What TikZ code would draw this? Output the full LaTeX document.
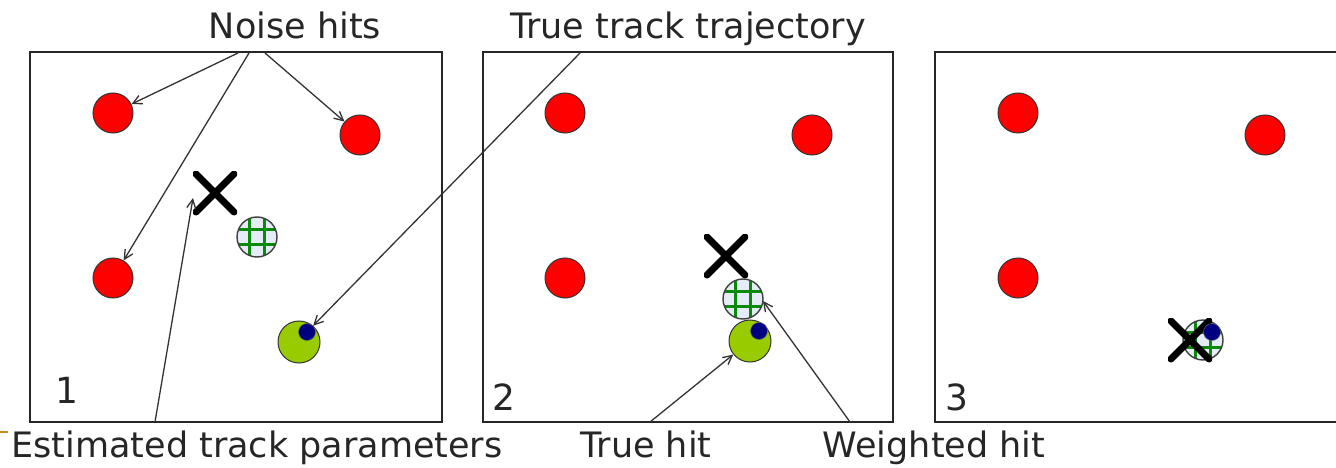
\documentclass[tikz,border=0pt]{standalone}
\usepackage{fontspec}
\setmainfont{DejaVu Sans}
\usetikzlibrary{arrows.meta}
\definecolor{noisered}{HTML}{FF0000}
\definecolor{truegreen}{HTML}{99CC00}
\definecolor{dotblue}{HTML}{000080}
\definecolor{wfill}{HTML}{E6ECF7}
\definecolor{gridgreen}{HTML}{0A8A0A}
\definecolor{orangeln}{HTML}{C88A1E}
\begin{document}
\begin{tikzpicture}[x=1pt,y=-1pt,
  panel/.style={draw=black!85,line width=2pt},
  noise/.style={circle,draw=black!80,line width=1pt,fill=noisered,minimum size=40pt,inner sep=0pt},
  truehit/.style={circle,draw=black!80,line width=1pt,fill=truegreen,minimum size=42pt,inner sep=0pt},
  bluedot/.style={circle,fill=dotblue,draw=black!60,line width=0.5pt,minimum size=17pt,inner sep=0pt},
  weighted/.style={circle,draw=black!75,line width=1.4pt,fill=wfill,minimum size=40pt,inner sep=0pt,
    path picture={\draw[gridgreen,line width=2.2pt]
      ([xshift=-7.5pt]path picture bounding box.north) -- ([xshift=-7.5pt]path picture bounding box.south)
      ([xshift=7.5pt]path picture bounding box.north) -- ([xshift=7.5pt]path picture bounding box.south)
      ([yshift=7.5pt]path picture bounding box.west) -- ([yshift=7.5pt]path picture bounding box.east)
      ([yshift=-7.5pt]path picture bounding box.west) -- ([yshift=-7.5pt]path picture bounding box.east);}},
  xmark/.style={minimum size=44pt,inner sep=0pt,
    path picture={\draw[line width=7pt,line cap=round]
      ([shift={(3pt,3pt)}]path picture bounding box.south west) -- ([shift={(-3pt,-3pt)}]path picture bounding box.north east)
      ([shift={(3pt,-3pt)}]path picture bounding box.north west) -- ([shift={(-3pt,3pt)}]path picture bounding box.south east);}},
  lbl/.style={font=\fontsize{35}{40}\selectfont,inner sep=0pt,anchor=base,text=black!85},
  num/.style={font=\fontsize{36}{40}\selectfont,inner sep=0pt,anchor=base west,text=black!85},
  ptr/.style={draw=black!80,line width=1.3pt,-{Straight Barb[length=9pt,width=9pt,line width=1.3pt]}},
]
\useasboundingbox (0,0) rectangle (1336,468);
\fill[white] (0,0) rectangle (1336,468);

% panels
\draw[panel] (30,422) -- (30,52) -- (442,52) -- (442,422) -- cycle;
\draw[panel] (483,422) -- (483,52) -- (893,52) -- (893,422) -- cycle;
\draw[panel] (1340,422) -- (935,422) -- (935,52) -- (1340,52);

% orange fragment
\draw[orangeln,line width=2pt] (0,432) -- (8,432);

% panel 1
\node[noise] (n1a) at (113,113) {};
\node[noise] (n1b) at (360,135) {};
\node[noise] (n1c) at (113,278) {};
\node[xmark] (x1) at (215,193) {};
\node[weighted] (w1) at (257,237) {};
\node[truehit] (g1) at (299,342) {};
\node[bluedot] (d1) at (307,332) {};
\node[num] (k1) at (55,403) {1};

% panel 2
\node[noise] (n2a) at (565,113) {};
\node[noise] (n2b) at (812,135) {};
\node[noise] (n2c) at (565,278) {};
\node[xmark] (x2) at (726,256) {};
\node[weighted] (w2) at (743,299) {};
\node[truehit] (g2) at (750,341) {};
\node[bluedot] (d2) at (759,331) {};
\node[num] (k2) at (492,410) {2};

% panel 3
\node[noise] (n3a) at (1018,113) {};
\node[noise] (n3b) at (1265,135) {};
\node[noise] (n3c) at (1018,278) {};
\node[weighted] (w3) at (1203,340) {};
\node[xmark] (x3) at (1190,340) {};
\node[bluedot] (d3) at (1212,332) {};
\node[num] (k3) at (945,410) {3};

% labels
\node[lbl] (noise) at (295,39) {Noise hits};
\node[lbl] (traj) at (688,39) {True track trajectory};
\node[lbl] (est) at (257,457) {Estimated track parameters};
\node[lbl] (th) at (646,457) {True hit};
\node[lbl] (wh) at (934,457) {Weighted hit};

% connector origins
\coordinate (o1) at (238,53);
\coordinate (o2) at (249,53);
\coordinate (o3) at (265,53);
\coordinate (o4) at (580,53);
\coordinate (o5) at (155,422);
\coordinate (o6) at (650,422);
\coordinate (o7) at (850,422);

\draw[ptr] (o1) -- (n1a);
\draw[ptr] (o2) -- (n1c);
\draw[ptr] (o3) -- (n1b);
\draw[ptr] (o4) -- (d1);
\draw[ptr] (o5) -- ([shift={(-22pt,-5pt)}]x1.center);
\draw[ptr] (o6) -- (g2);
\draw[ptr] (o7) -- ([shift={(20pt,-2pt)}]w2.center);
\end{tikzpicture}
\end{document}
